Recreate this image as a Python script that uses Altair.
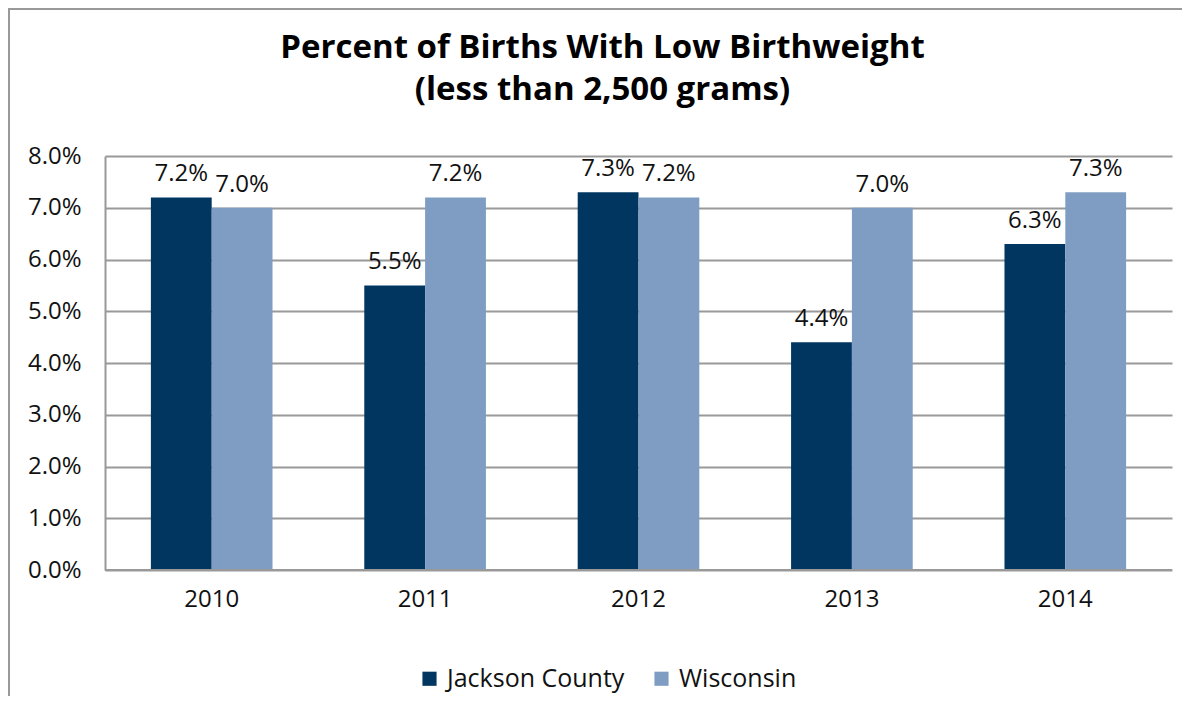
import altair as alt
import pandas as pd

years = ["2010", "2011", "2012", "2013", "2014"]
jackson = [7.2, 5.5, 7.3, 4.4, 6.3]
wisconsin = [7.0, 7.2, 7.2, 7.0, 7.3]
series = ["Jackson County", "Wisconsin"]
colors = ["#003660", "#7F9DC3"]
y_ticks = [0.0, 0.01, 0.02, 0.03, 0.04, 0.05, 0.06, 0.07, 0.08]

rows = []
for i, yr in enumerate(years):
    rows.append({"year": yr, "series": series[0], "value": jackson[i] / 100})
    rows.append({"year": yr, "series": series[1], "value": wisconsin[i] / 100})
df = pd.DataFrame(rows)

W, H = 1067, 414
FONT = "Open Sans"
FS = 24

x_enc = alt.X("year:N", sort=years,
              scale=alt.Scale(paddingInner=0.43, paddingOuter=0.215),
              axis=alt.Axis(title=None, labelAngle=0, labelFontSize=FS, labelPadding=17,
                            ticks=False, domain=False, labelColor="#111"))
y_enc = alt.Y("value:Q", scale=alt.Scale(domain=[0, 0.08], nice=False),
              axis=alt.Axis(title=None, format=".1%", values=y_ticks, labelFontSize=FS,
                            labelPadding=24, ticks=False, domain=True, domainColor="#999",
                            domainWidth=2, grid=True, gridColor="#999", gridWidth=2,
                            labelColor="#111"))
xo = alt.XOffset("series:N", sort=series)

base = alt.Chart(df)

bars = base.mark_bar().encode(
    x=x_enc, xOffset=xo, y=y_enc,
    color=alt.Color("series:N", sort=series,
                    scale=alt.Scale(domain=series, range=colors),
                    legend=alt.Legend(title=None, orient="none", legendX=312, legendY=510,
                                      direction="horizontal", symbolType="square",
                                      symbolSize=200, symbolStrokeWidth=0,
                                      labelFontSize=25, labelColor="#111", labelLimit=400,
                                      columnPadding=24, labelOffset=5, padding=0)),
)

labels = base.mark_text(baseline="alphabetic", dy=-16, fontSize=FS, color="#111").encode(
    x=alt.X("year:N", sort=years), xOffset=xo, y="value:Q",
    text=alt.Text("value:Q", format=".1%"),
)

bottom = alt.Chart(pd.DataFrame({"v": [0.0]})).mark_rule(color="#999", strokeWidth=2).encode(
    y="v:Q")

frame = alt.Chart(pd.DataFrame({"k": [0]})).mark_rect(
    fill=None, stroke="#999", strokeWidth=2).encode(
    x=alt.value(-96), x2=alt.value(W + 40), y=alt.value(-147), y2=alt.value(H + 200))

chart = alt.layer(frame, bars, bottom, labels).properties(
    width=W, height=H,
    title=alt.TitleParams(["Percent of Births With Low Birthweight", "(less than 2,500 grams)"],
                          fontSize=33, fontWeight="bold", anchor="middle", offset=0, dy=99,
                          dx=-36, lineHeight=42, color="#000", font=FONT),
    padding={"left": 97, "top": 148, "right": 10, "bottom": 126},
    autosize=alt.AutoSizeParams(type="none"),
).configure(font=FONT).configure_view(stroke=None)

chart.save("out.html", embed_options={"renderer": "svg", "actions": False})
